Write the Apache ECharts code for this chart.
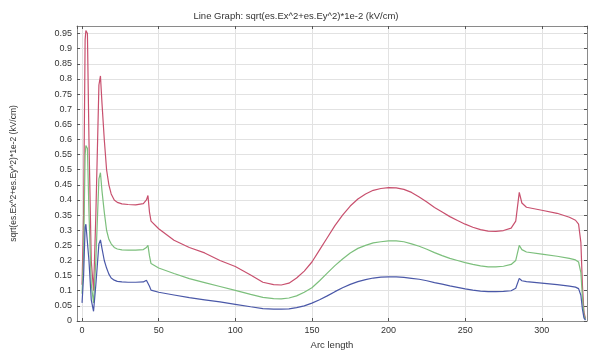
<!DOCTYPE html>
<html>
<head>
<meta charset="utf-8">
<script src="https://cdn.jsdelivr.net/npm/echarts@6/dist/echarts.min.js"></script>
<style>
html,body{margin:0;padding:0;background:#fff;}
#chart{width:592px;height:356px;}
</style>
</head>
<body>
<div id="chart"></div>
<script>
const arcLength = [0, 1, 2, 2.5, 3.5, 4.5, 6, 7.5, 9, 11, 12, 13, 14.5, 16, 17.5, 19, 21, 23, 26, 30, 35, 40, 42, 43, 44, 45, 50, 60, 70, 80, 90, 100, 110, 118, 125, 130, 135, 140, 145, 150, 155, 160, 165, 170, 175, 180, 185, 190, 195, 200, 205, 210, 215, 220, 225, 230, 235, 240, 245, 250, 255, 260, 265, 270, 275, 280, 283, 285.3, 287, 290, 300, 310, 318, 322, 324, 325.5, 326.5, 327.5, 328.5];

const redValues = [0.12, 0.35, 0.93, 0.96, 0.95, 0.6, 0.2, 0.1, 0.35, 0.78, 0.81, 0.72, 0.6, 0.5, 0.45, 0.42, 0.4, 0.392, 0.387, 0.385, 0.384, 0.388, 0.4, 0.415, 0.36, 0.33, 0.305, 0.267, 0.243, 0.225, 0.2, 0.18, 0.152, 0.128, 0.12, 0.119, 0.125, 0.142, 0.165, 0.195, 0.235, 0.275, 0.315, 0.35, 0.38, 0.403, 0.42, 0.432, 0.438, 0.441, 0.44, 0.435, 0.425, 0.41, 0.393, 0.375, 0.36, 0.345, 0.332, 0.32, 0.31, 0.302, 0.297, 0.296, 0.299, 0.307, 0.33, 0.425, 0.39, 0.376, 0.366, 0.356, 0.343, 0.333, 0.32, 0.26, 0.12, 0.03, 0.008];

const greenValues = [0.09, 0.22, 0.55, 0.58, 0.57, 0.36, 0.12, 0.06, 0.2, 0.47, 0.49, 0.43, 0.36, 0.3, 0.27, 0.255, 0.243, 0.238, 0.235, 0.234, 0.234, 0.236, 0.243, 0.25, 0.215, 0.19, 0.175, 0.157, 0.14, 0.127, 0.114, 0.101, 0.088, 0.078, 0.074, 0.073, 0.076, 0.083, 0.095, 0.11, 0.133, 0.158, 0.183, 0.205, 0.225, 0.24, 0.25, 0.258, 0.262, 0.265, 0.265, 0.262, 0.255, 0.247, 0.237, 0.226, 0.216, 0.207, 0.2, 0.193, 0.187, 0.182, 0.179, 0.179, 0.181, 0.187, 0.2, 0.25, 0.236, 0.228, 0.221, 0.214, 0.207, 0.202, 0.195, 0.16, 0.08, 0.02, 0.005];

const blueValues = [0.06, 0.15, 0.31, 0.32, 0.315, 0.2, 0.07, 0.032, 0.12, 0.255, 0.268, 0.24, 0.2, 0.175, 0.155, 0.142, 0.135, 0.131, 0.129, 0.128, 0.128, 0.129, 0.135, 0.141, 0.115, 0.102, 0.095, 0.086, 0.077, 0.07, 0.063, 0.055, 0.047, 0.041, 0.039, 0.039, 0.04, 0.044, 0.05, 0.059, 0.07, 0.083, 0.097, 0.11, 0.121, 0.13, 0.137, 0.142, 0.145, 0.146, 0.146, 0.144, 0.141, 0.138, 0.133, 0.127, 0.122, 0.116, 0.111, 0.106, 0.102, 0.099, 0.097, 0.097, 0.098, 0.1, 0.108, 0.141, 0.133, 0.13, 0.125, 0.12, 0.115, 0.112, 0.107, 0.085, 0.04, 0.01, 0.003];

const titleText = 'Line Graph: sqrt(es.Ex^2+es.Ey^2)*1e-2 (kV/cm)';
const xName = 'Arc length';
const yName = 'sqrt(es.Ex^2+es.Ey^2)*1e-2 (kV/cm)';

const FONT = '"Liberation Sans", Arial, sans-serif';
function pairs(ys) { return arcLength.map((x, i) => [x, ys[i]]); }

const chart = echarts.init(document.getElementById('chart'), null, {renderer: 'canvas'});
const xRange = {min: -3.3, max: 329.5};
const yRange = {min: 0, max: 0.975};
const lineC = '#8a8a8a';

chart.setOption({
  animation: false,
  backgroundColor: '#ffffff',
  title: {
    text: titleText, left: 'center', top: 6,
    textStyle: {fontFamily: FONT, fontSize: 9.5, fontWeight: 'normal', color: '#333'}
  },
  grid: {left: 77, right: 5, top: 26, bottom: 35, containLabel: false},
  xAxis: [{
    type: 'value', position: 'bottom',
    min: xRange.min, max: xRange.max, splitNumber: 7, minInterval: 50, maxInterval: 50,
    name: xName, nameLocation: 'middle', nameGap: 15,
    nameTextStyle: {fontFamily: FONT, fontSize: 9.5, color: '#333'},
    axisLine: {show: true, onZero: false, lineStyle: {color: lineC, width: 1}},
    axisTick: {show: true, inside: true, length: 3, lineStyle: {color: '#555'}},
    axisLabel: {showMinLabel: false, showMaxLabel: false, margin: 5, fontFamily: FONT, fontSize: 9, color: '#333'},
    splitLine: {show: true, lineStyle: {color: '#e2e2e2', width: 1}}
  }, {
    type: 'value', position: 'top',
    min: xRange.min, max: xRange.max, splitNumber: 7, minInterval: 50, maxInterval: 50,
    axisLine: {show: true, onZero: false, lineStyle: {color: lineC, width: 1}},
    axisTick: {show: true, inside: true, length: 3, lineStyle: {color: '#555'}},
    axisLabel: {show: false},
    splitLine: {show: false}
  }],
  yAxis: [{
    type: 'value', position: 'left',
    min: yRange.min, max: yRange.max, interval: 0.05,
    name: yName, nameLocation: 'middle', nameGap: 59, nameRotate: 90,
    nameTextStyle: {fontFamily: FONT, fontSize: 8.5, color: '#333'},
    axisLine: {show: true, onZero: false, lineStyle: {color: lineC, width: 1}},
    axisTick: {show: true, inside: true, length: 3, lineStyle: {color: '#555'}},
    axisLabel: {showMaxLabel: false, margin: 5, fontFamily: FONT, fontSize: 9, color: '#333'},
    splitLine: {show: true, lineStyle: {color: '#e2e2e2', width: 1}}
  }, {
    type: 'value', position: 'right',
    min: yRange.min, max: yRange.max, interval: 0.05,
    axisLine: {show: true, onZero: false, lineStyle: {color: lineC, width: 1}},
    axisTick: {show: true, inside: true, length: 3, lineStyle: {color: '#555'}},
    axisLabel: {show: false},
    splitLine: {show: false}
  }],
  series: [
    {type: 'line', name: 'red', data: pairs(redValues), showSymbol: false, symbol: 'none',
     lineStyle: {color: '#c8506e', width: 1.2}, itemStyle: {color: '#c8506e'}},
    {type: 'line', name: 'green', data: pairs(greenValues), showSymbol: false, symbol: 'none',
     lineStyle: {color: '#7cbf7c', width: 1.2}, itemStyle: {color: '#7cbf7c'}},
    {type: 'line', name: 'blue', data: pairs(blueValues), showSymbol: false, symbol: 'none',
     lineStyle: {color: '#4a58a8', width: 1.2}, itemStyle: {color: '#4a58a8'}}
  ]
});
</script>
</body>
</html>
